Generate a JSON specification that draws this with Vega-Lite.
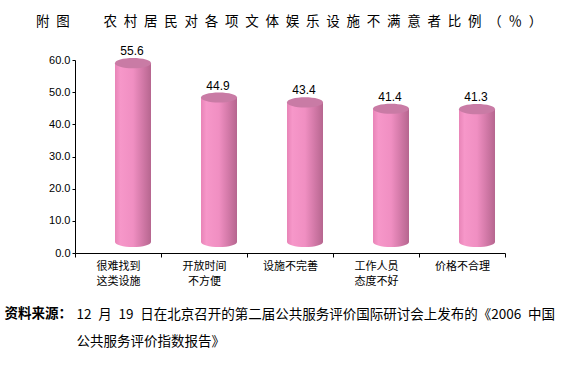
{
  "$schema": "https://vega.github.io/schema/vega-lite/v6.json",
  "width": 430,
  "height": 193,
  "autosize": {"type": "none"},
  "padding": {"left": 75, "top": 60, "right": 74, "bottom": 118},
  "background": "white",
  "config": {"view": {"stroke": null}, "font": "Liberation Sans"},
  "title": {
    "text": "附\u2002图\u2003\u2003\u2002农\u2002村\u2002居\u2002民\u2002对\u2002各\u2002项\u2002文\u2002体\u2002娱\u2002乐\u2002设\u2002施\u2002不\u2002满\u2002意\u2002者\u2002比\u2002例\u2002（\u2002％\u2002）",
    "anchor": "start",
    "frame": "group",
    "dx": -39,
    "dy": 3,
    "font": "Noto Sans CJK SC",
    "fontSize": 13.5,
    "fontWeight": "normal",
    "color": "#000000",
    "offset": 20
  },
  "data": {
    "values": [
      {"cat": "很难找到 这类设施", "value": 55.6},
      {"cat": "开放时间 不方便", "value": 44.9},
      {"cat": "设施不完善", "value": 43.4},
      {"cat": "工作人员 态度不好", "value": 41.4},
      {"cat": "价格不合理", "value": 41.3}
    ]
  },
  "encoding": {
    "x": {
      "field": "cat",
      "type": "nominal",
      "sort": null,
      "scale": {"paddingInner": 0, "paddingOuter": 0},
      "axis": {
        "labelAngle": 0,
        "labelExpr": "split(datum.label, ' ')",
        "labelFont": "Noto Sans CJK SC",
        "labelFontSize": 11,
        "labelLineHeight": 15,
        "labelColor": "#000000",
        "labelPadding": 3,
        "labelBaseline": "top",
        "tickBand": "extent",
        "tickSize": 4,
        "tickColor": "#000000",
        "domainColor": "#000000",
        "title": ["12\u2002月\u200219\u2002日在北京召开的第二届公共服务评价国际研讨会上发布的《2006\u2002中国", "公共服务评价指数报告》"],
        "titleFont": "Noto Sans CJK SC",
        "titleFontSize": 13.5,
        "titleFontWeight": "normal",
        "titleColor": "#000000",
        "titleAlign": "left",
        "titleAnchor": "start",
        "titleBaseline": "top",
        "titleLineHeight": 27,
        "titleX": 1,
        "titleY": 54
      }
    },
    "y": {
      "field": "value",
      "type": "quantitative",
      "scale": {"domain": [0, 60], "nice": false},
      "axis": {
        "values": [0, 10, 20, 30, 40, 50, 60],
        "format": ".1f",
        "grid": false,
        "labelFont": "Liberation Sans",
        "labelFontSize": 11,
        "labelColor": "#000000",
        "labelPadding": 2,
        "tickSize": 3,
        "tickColor": "#000000",
        "domainColor": "#000000",
        "title": "资料来源：",
        "titleFont": "Noto Sans CJK SC",
        "titleFontSize": 13.5,
        "titleFontWeight": "bold",
        "titleColor": "#000000",
        "titleAngle": 0,
        "titleAlign": "left",
        "titleBaseline": "middle",
        "titleX": -71,
        "titleY": 253
      }
    }
  },
  "layer": [
    {
      "mark": {
        "type": "point",
        "shape": "M-1,0A1,0.28,0,1,0,1,0A1,0.28,0,1,0,-1,0Z",
        "size": 1296,
        "filled": true,
        "opacity": 1,
        "strokeWidth": 0,
        "xOffset": 15,
        "yOffset": -11,
        "color": {
          "gradient": "linear", "x1": 0, "x2": 1, "y1": 0, "y2": 0,
          "stops": [
            {"offset": 0, "color": "#E884B7"},
            {"offset": 0.15, "color": "#F697C9"},
            {"offset": 0.5, "color": "#F08FC2"},
            {"offset": 0.75, "color": "#D47AA9"},
            {"offset": 1, "color": "#B6668F"}
          ]
        }
      },
      "encoding": {"y": {"datum": 0, "type": "quantitative"}}
    },
    {
      "mark": {
        "type": "bar",
        "width": 36,
        "xOffset": 15,
        "x2Offset": 15,
        "yOffset": -11,
        "y2Offset": -11,
        "color": {
          "gradient": "linear", "x1": 0, "x2": 1, "y1": 0, "y2": 0,
          "stops": [
            {"offset": 0, "color": "#E884B7"},
            {"offset": 0.15, "color": "#F697C9"},
            {"offset": 0.5, "color": "#F08FC2"},
            {"offset": 0.75, "color": "#D47AA9"},
            {"offset": 1, "color": "#B6668F"}
          ]
        }
      }
    },
    {
      "mark": {
        "type": "point",
        "shape": "M-1,0A1,0.28,0,1,0,1,0A1,0.28,0,1,0,-1,0Z",
        "size": 1296,
        "filled": true,
        "opacity": 1,
        "strokeWidth": 0,
        "xOffset": 15,
        "yOffset": -11,
        "color": "#C97BA5"
      }
    },
    {
      "mark": {
        "type": "text",
        "xOffset": 14,
        "yOffset": -19,
        "baseline": "alphabetic",
        "font": "Liberation Sans",
        "fontSize": 12,
        "color": "#000000"
      },
      "encoding": {"text": {"field": "value", "type": "quantitative", "format": ".1f"}}
    }
  ]
}
